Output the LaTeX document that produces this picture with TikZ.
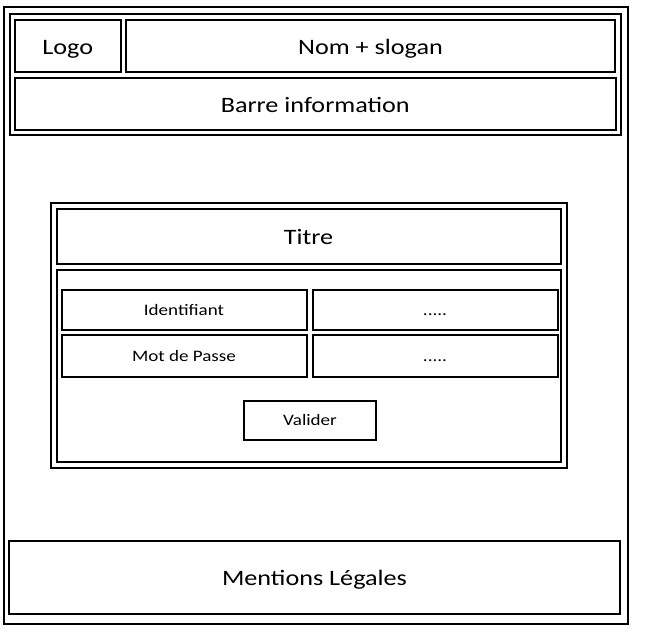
\documentclass[tikz,border=0pt]{standalone}
\usepackage{fontspec}
\setmainfont{Carlito}[FakeStretch=1.19]
\usepackage{tikz}
\usetikzlibrary{positioning}
\tikzstyle{frame} = [rectangle, draw=black, line width=2pt, inner sep=0pt, text centered]
\tikzstyle{bigbox} = [frame, font=\fontsize{22}{26}\selectfont, text height=22pt, text depth=5.5pt]
\tikzstyle{smallbox} = [frame, font=\fontsize{16}{19}\selectfont, text height=16pt, text depth=5.4pt]

\begin{document}
\begin{tikzpicture}[x=1pt, y=-1pt]
    \useasboundingbox (0,0) rectangle (651,641);

    % Page
    \node[frame, minimum width=624pt, minimum height=617pt] (page) at (315.5, 315.5) {};

    % Header
    \node[frame, minimum width=611.5pt, minimum height=121pt] (header) at (315.25, 74.5) {};
    \node[bigbox, minimum width=105.5pt, minimum height=52pt] (logo) at (67.75, 46) {Logo};
    \node[bigbox, minimum width=489pt, minimum height=52pt] (title) at (370.5, 46) {Nom + slogan};
    \node[bigbox, minimum width=600.5pt, minimum height=52pt] (info) at (315.25, 104) {Barre information};

    % Login form
    \node[frame, minimum width=515.5pt, minimum height=265.5pt] (form) at (308.75, 335.25) {};
    \node[bigbox, minimum width=504pt, minimum height=55pt] (formtitle) at (308.5, 236.5) {Titre};
    \node[frame, minimum width=504pt, minimum height=191.5pt] (formbody) at (308.5, 365.75) {};

    % Fields
    \node[smallbox, minimum width=245pt, minimum height=40.5pt] (login) at (184, 309.75) {Identifiant};
    \node[smallbox, minimum width=245pt, minimum height=40.5pt] (loginval) at (435, 309.75) {.....};
    \node[smallbox, minimum width=245pt, minimum height=41.5pt] (pwd) at (184, 355.75) {Mot de Passe};
    \node[smallbox, minimum width=245pt, minimum height=41.5pt] (pwdval) at (435, 355.75) {.....};
    \node[smallbox, minimum width=132pt, minimum height=38.5pt] (submit) at (310, 420.25) {Valider};

    % Footer
    \node[bigbox, minimum width=611pt, minimum height=72.5pt] (legal) at (314.5, 577.25) {Mentions Légales};
\end{tikzpicture}
\end{document}
